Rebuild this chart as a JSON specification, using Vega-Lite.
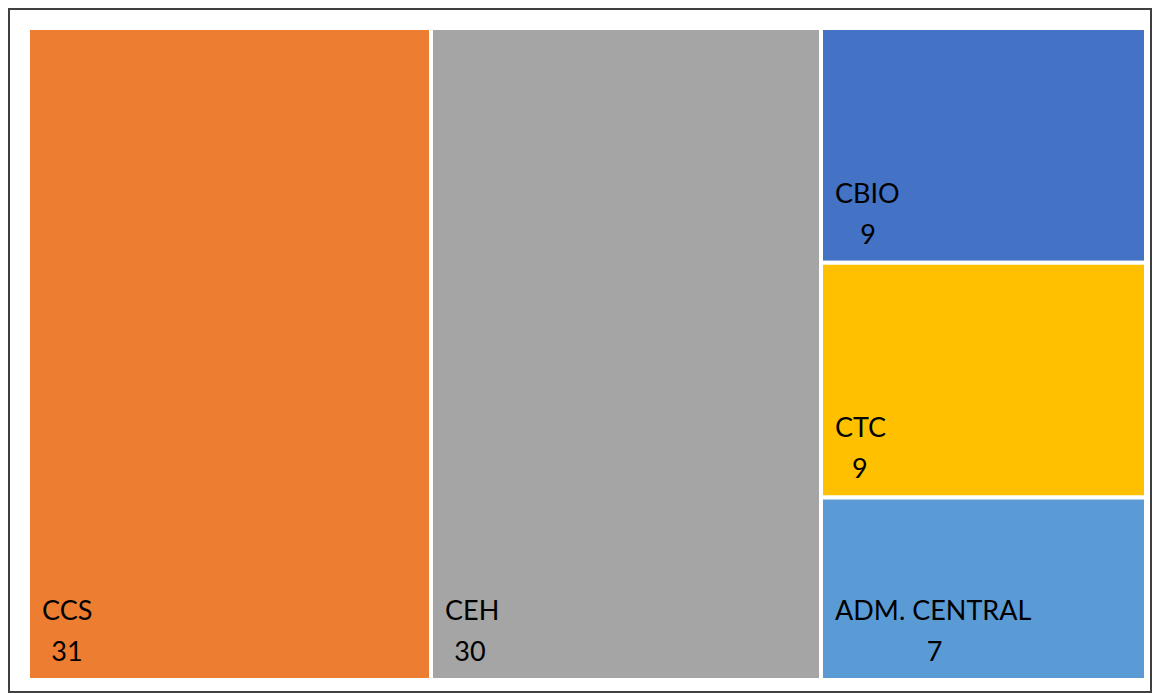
{
  "$schema": "https://vega.github.io/schema/vega-lite/v6.json",
  "width": 1142,
  "height": 683,
  "autosize": {"type": "none"},
  "padding": {"left": 9, "top": 9, "right": 1, "bottom": 1},
  "background": "white",
  "config": {"view": {"stroke": "#404040", "strokeWidth": 2}},
  "data": {
    "values": [
      {"name": "CCS", "value": 31, "group": "A", "rank": 1},
      {"name": "CEH", "value": 30, "group": "B", "rank": 2},
      {"name": "CBIO", "value": 9, "group": "C", "rank": 3},
      {"name": "CTC", "value": 9, "group": "C", "rank": 4},
      {"name": "ADM. CENTRAL", "value": 7, "group": "C", "rank": 5}
    ]
  },
  "transform": [
    {"stack": "value", "groupby": [], "sort": [{"field": "rank", "order": "ascending"}], "as": ["s0", "s1"]},
    {"joinaggregate": [{"op": "min", "field": "s0", "as": "x0"}, {"op": "max", "field": "s1", "as": "x1"}], "groupby": ["group"]},
    {"stack": "value", "groupby": ["group"], "sort": [{"field": "rank", "order": "ascending"}], "offset": "normalize", "as": ["y0", "y1"]},
    {"calculate": "datum.x0 + (14 + 8.3 * length(datum.name)) * 86 / 1118", "as": "lx"}
  ],
  "layer": [
    {
      "mark": {"type": "rect", "stroke": "white", "strokeWidth": 4},
      "encoding": {
        "x": {"field": "x0", "type": "quantitative", "scale": {"domain": [0, 86], "range": [19, 1137], "nice": false, "zero": false}, "axis": null},
        "x2": {"field": "x1"},
        "y": {"field": "y0", "type": "quantitative", "scale": {"domain": [0, 1], "range": [19, 671], "nice": false, "zero": false}, "axis": null},
        "y2": {"field": "y1"},
        "color": {"field": "name", "type": "nominal", "scale": {"domain": ["CCS", "CEH", "CBIO", "CTC", "ADM. CENTRAL"], "range": ["#ED7D31", "#A5A5A5", "#4472C4", "#FFC000", "#5B9BD5"]}, "legend": null}
      }
    },
    {
      "mark": {"type": "text", "align": "left", "baseline": "alphabetic", "dx": 14, "dy": -60, "font": "Lato", "fontSize": 27, "color": "black"},
      "encoding": {
        "x": {"field": "x0", "type": "quantitative"},
        "y": {"field": "y1", "type": "quantitative"},
        "text": {"field": "name"}
      }
    },
    {
      "mark": {"type": "text", "align": "center", "baseline": "alphabetic", "dy": -19, "font": "Lato", "fontSize": 27, "color": "black"},
      "encoding": {
        "x": {"field": "lx", "type": "quantitative"},
        "y": {"field": "y1", "type": "quantitative"},
        "text": {"field": "value"}
      }
    }
  ]
}
